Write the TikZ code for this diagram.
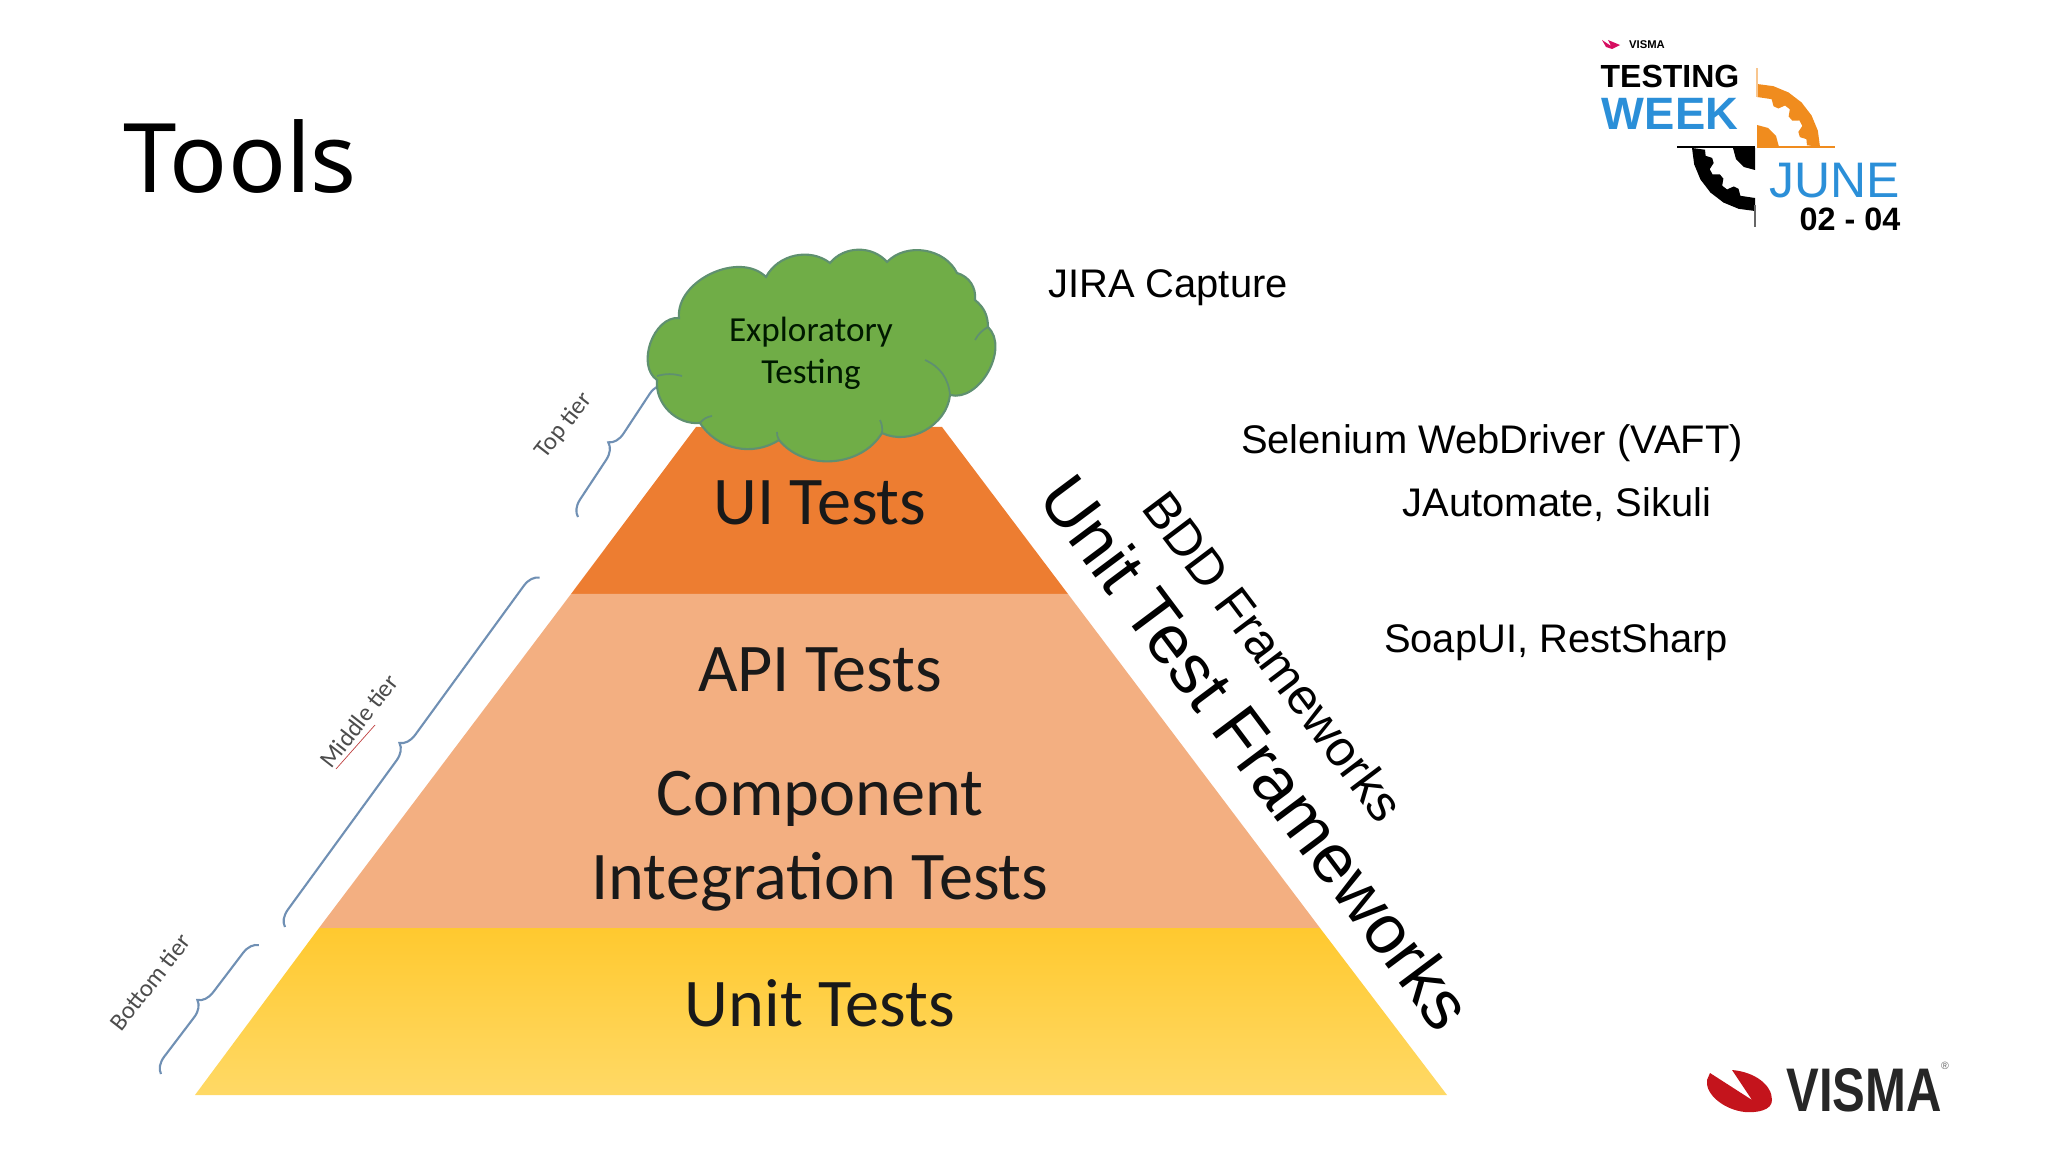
\documentclass[tikz,border=0pt]{standalone}
\usepackage{fontspec}
\setmainfont{Liberation Sans}
\newfontfamily\calibrifont{Carlito}
\newfontfamily\titlefont{Noto Sans}
\usetikzlibrary{decorations.pathreplacing}

\definecolor{uiorange}{HTML}{ED7D31}
\definecolor{apipeach}{HTML}{F3AF81}
\definecolor{unittop}{HTML}{FFC92F}
\definecolor{unitbottom}{HTML}{FFD966}
\definecolor{cloudgreen}{HTML}{70AD47}
\definecolor{cloudline}{HTML}{5F9070}
\definecolor{bracecolor}{HTML}{7090B4}
\definecolor{weekblue}{HTML}{2B8FD8}
\definecolor{gearorange}{HTML}{F08C1E}
\definecolor{vismared}{HTML}{C4141C}

\tikzset{
  tierlabel/.style = {font = \calibrifont\fontsize{26}{26}\selectfont, text = black!70, inner sep = 0pt, scale = 0.27},
  bandlabel/.style = {font = \calibrifont\fontsize{19.4}{24}\selectfont, text = black!90, align = center, inner sep = 0pt},
  toollabel/.style = {font = \fontsize{11.35}{13}\selectfont, inner sep = 0pt},
  tierbrace/.style = {draw = bracecolor, line width = 0.6pt, decorate, decoration = {brace, amplitude = 4.5pt}},
  puffline/.style = {draw = cloudline, line width = 0.5pt},
}

\newcommand{\gearquarter}{
  (-90:63) -- (-75:63) -- (-60:63) -- (-45:63) -- (-30:63) -- (-15:63) -- (0:63)
  -- (-2:50) -- (-9:50) -- (-13:44) -- (-20:44) -- (-25:50) -- (-32:50) -- (-37:44) -- (-44:44)
  -- (-49:50) -- (-56:50) -- (-61:44) -- (-68:44) -- (-73:50) -- (-90:50) -- cycle
  (-90:22) -- (-60:22) -- (-30:22) -- (0:22) -- (0:0) -- cycle
}

\begin{document}
\begin{tikzpicture}[x = 0.01cm, y = -0.01cm]
      \useasboundingbox (0, 0) rectangle (2048, 1152);
      \node (Title) at (240, 157) {\titlefont\fontsize{27.3}{30}\selectfont Tools};
      % tiers
      \coordinate (Top Start) at (578, 517);
      \coordinate (Top End) at (665, 385);
      \coordinate (Middle Start) at (285, 927);
      \coordinate (Middle End) at (540, 577);
      \coordinate (Bottom Start) at (161, 1074);
      \coordinate (Bottom End) at (259, 945);
      \draw[tierbrace] (Top Start) -- (Top End);
      \draw[tierbrace] (Middle Start) -- (Middle End);
      \draw[tierbrace] (Bottom Start) -- (Bottom End);
      \node[tierlabel, rotate = 52] (Top Tier) at (564, 426) {Top tier};
      \node[tierlabel, rotate = 52] (Middle Tier) at (359, 721) {Middle tier};
      \node[tierlabel, rotate = 52] (Bottom Tier) at (150, 982) {Bottom tier};
      \draw[red!50!gray, line width = 0.2pt] (336, 769) -- (375, 725);
      % pyramid
      \fill[uiorange] (696, 427) -- (942, 427) -- (1068, 594) -- (571, 594) -- cycle;
      \fill[apipeach] (571, 594) -- (1068, 594) -- (1320, 928) -- (319, 928) -- cycle;
      \shade[top color = unittop, bottom color = unitbottom] (319, 928) -- (1320, 928) -- (1447, 1095) -- (195, 1095) -- cycle;
      \node[bandlabel] (UI Tests) at (820, 503) {UI Tests};
      \node[bandlabel] (API Tests) at (820, 670) {API Tests};
      \node[bandlabel] (Integration Tests) at (820, 841) {Component\\Integration Tests};
      \node[bandlabel] (Unit Tests) at (820, 1003) {Unit Tests};
      % cloud
      \draw[fill = cloudgreen, draw = cloudline, line width = 0.6pt] (679, 318) to[bend left = 70] (766, 277)
        to[bend left = 50] (830, 263) to[bend left = 50] (887, 262) to[bend left = 55] (957, 273)
        to[bend left = 40] (975, 300) to[bend left = 25] (988, 327) to[bend left = 75] (950, 395)
        to[bend left = 55] (882, 433) to[bend left = 55] (779, 440) to[bend left = 45] (700, 423)
        to[bend left = 50] (657, 380) to[bend left = 75] cycle;
      \draw[puffline] (657, 376) to[bend left = 15] (682, 376);
      \draw[puffline] (925, 360) to[bend left = 30] (950, 395);
      \draw[puffline] (975, 340) to[bend left = 15] (988, 327);
      \draw[puffline] (700, 423) to[bend left = 20] (712, 416);
      \draw[puffline] (779, 440) to[bend left = 15] (777, 432);
      \draw[puffline] (882, 433) to[bend right = 15] (880, 420);
      \node[font = \calibrifont\fontsize{10}{12}\selectfont, text = black!75!green!40!black, align = center, inner sep = 0pt] (Exploratory) at (811, 353) {Exploratory\\Testing};
      % tools
      \node[toollabel] (JIRA) at (1168, 288) {JIRA Capture};
      \node[toollabel] (Selenium) at (1492, 443) {Selenium WebDriver (VAFT)};
      \node[toollabel] (JAutomate) at (1557, 505) {JAutomate, Sikuli};
      \node[toollabel] (SoapUI) at (1556, 642) {SoapUI, RestSharp};
      \node[inner sep = 0pt, rotate = -53, font = \fontsize{14.3}{16}\selectfont] (BDD) at (1274, 656) {BDD Frameworks};
      \node[inner sep = 0pt, rotate = -53.2, font = \fontsize{19.7}{24}\selectfont] (Unit Frameworks) at (1257, 752) {Unit Test Frameworks};
      % testing week logo
      \fill[gearorange, shift = {(1757, 147)}] \gearquarter;
      \fill[black, shift = {(1755, 148)}, rotate = 180] \gearquarter;
      \fill[gearorange!50] (1756, 68) rectangle (1758, 97);
      \fill[gearorange] (1757, 146) rectangle (1835, 148);
      \fill[black] (1677, 146) rectangle (1755, 148);
      \fill[black!60] (1754, 205) rectangle (1756, 227);
      \fill[vismared!70!magenta] (1602, 40) -- (1611, 46) -- (1608, 40) -- (1620, 45) -- (1612, 49) -- (1606, 47) -- cycle;
      \node[inner sep = 0pt, font = \bfseries\fontsize{3.2}{4}\selectfont] (Small Visma) at (1647, 45) {VISMA};
      \node[inner sep = 0pt, font = \bfseries\fontsize{9.1}{12}\selectfont] (Testing) at (1670, 76) {TESTING};
      \node[inner sep = 0pt, text = weekblue, font = \bfseries\fontsize{12.9}{20}\selectfont] (Week) at (1670, 114) {WEEK};
      \node[inner sep = 0pt, text = weekblue, font = \fontsize{14.2}{20}\selectfont] (June) at (1835, 181) {JUNE};
      \node[inner sep = 0pt, font = \bfseries\fontsize{9.2}{12}\selectfont] (Dates) at (1850, 219) {02 - 04};
      % visma logo
      \fill[vismared] (1710, 1073) -- (1752, 1100) -- (1732, 1070) .. controls (1755, 1072) and (1772, 1085) .. (1772, 1100)
        .. controls (1772, 1110) and (1758, 1113) .. (1745, 1112) .. controls (1725, 1110) and (1705, 1095) .. (1707, 1080) -- cycle;
      \node[inner sep = 0pt, text = black!85, font = \bfseries\fontsize{15.5}{18}\selectfont] (Visma) at (1864, 1090) {\scalebox{0.9}[1.13]{VISMA}};
      \node[inner sep = 0pt, text = black!60, font = \fontsize{3}{4}\selectfont] (Registered) at (1945, 1066) {®};
    \end{tikzpicture}
\end{document}
